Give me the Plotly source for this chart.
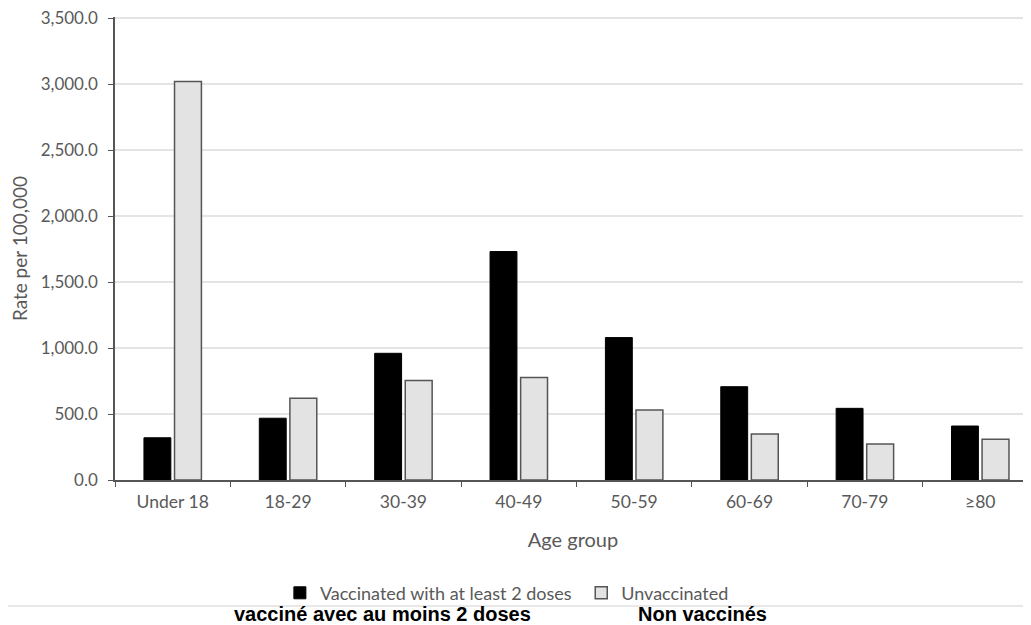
import plotly.graph_objects as go

age_groups = ["Under 18", "18-29", "30-39", "40-49", "50-59", "60-69", "70-79", "≥80"]
vaccinated = [320, 468, 960, 1731, 1079, 707, 543, 409]
unvaccinated = [3020, 619, 753, 776, 531, 349, 273, 309]
series_names = ["Vaccinated with at least 2 doses", "Unvaccinated"]
fr_labels = ["vacciné avec au moins 2 doses", "Non vaccinés"]
y_ticks = [0, 500, 1000, 1500, 2000, 2500, 3000, 3500]

font_main = "Lato, 'Open Sans', sans-serif"
grey_text = "#595959"

fig = go.Figure()
fig.add_trace(go.Bar(
    x=age_groups, y=vaccinated, name=series_names[0], legend="legend",
    marker=dict(color="#000000", line=dict(color="#000000", width=1)),
))
fig.add_trace(go.Bar(
    x=age_groups, y=unvaccinated, name=series_names[1], legend="legend2",
    marker=dict(color="#e3e3e3", line=dict(color="#555555", width=1.5)),
))

legend_common = dict(
    orientation="h", yanchor="middle", xanchor="left", y=-0.2443,
    font=dict(size=18, color=grey_text, family=font_main), itemwidth=30,
    bgcolor="rgba(0,0,0,0)",
)

# page body has an 8px default margin; figure sized to fill the rest of the window
fig.update_layout(
    width=1023, height=617,
    margin=dict(l=107, r=0, t=9, b=145, autoexpand=False),
    paper_bgcolor="white", plot_bgcolor="white",
    barmode="group", bargap=0.47, bargroupgap=0.12,
    font=dict(family=font_main, size=15, color=grey_text),
    showlegend=True,
    legend=dict(x=0.180, **legend_common),
    legend2=dict(x=0.509, **legend_common),
    xaxis=dict(
        range=[-0.5, 7.44], showline=True, linecolor="#555555", linewidth=1.5,
        ticks="outside", tickson="boundaries", ticklen=5, tickcolor="#555555",
        tickfont=dict(size=17.5, color=grey_text), automargin=False, ticklabelstandoff=5,
        title=dict(text="Age group", font=dict(size=20, color=grey_text), standoff=22),
        showgrid=False,
    ),
    yaxis=dict(
        range=[0, 3508], tickvals=y_ticks, tickformat=",.1f",
        showline=True, linecolor="#555555", linewidth=1.5,
        ticks="outside", ticklen=5, tickcolor="#555555", ticklabeloverflow="allow",
        tickfont=dict(size=17, color=grey_text), automargin=False, ticklabelstandoff=7,
        showgrid=True, gridcolor="#e4e4e4", gridwidth=1.5, zeroline=False,
        title=dict(text="Rate per 100,000", font=dict(size=19, color=grey_text), standoff=8),
    ),
)

fig.add_shape(type="line", xref="paper", yref="paper", x0=-0.12, x1=1.0, y0=-0.2721, y1=-0.2721,
              line=dict(color="#e0e0e0", width=1.5))

fig.add_annotation(text=f"<b>{fr_labels[0]}</b>", xref="paper", yref="paper",
                   x=0.2915, y=-0.289, xanchor="center", yanchor="middle", showarrow=False,
                   font=dict(family="Liberation Sans, Arial, sans-serif", size=20, color="#000000"))
fig.add_annotation(text=f"<b>{fr_labels[1]}</b>", xref="paper", yref="paper",
                   x=0.641, y=-0.289, xanchor="center", yanchor="middle", showarrow=False,
                   font=dict(family="Liberation Sans, Arial, sans-serif", size=20, color="#000000"))

fig.write_html("out.html")
